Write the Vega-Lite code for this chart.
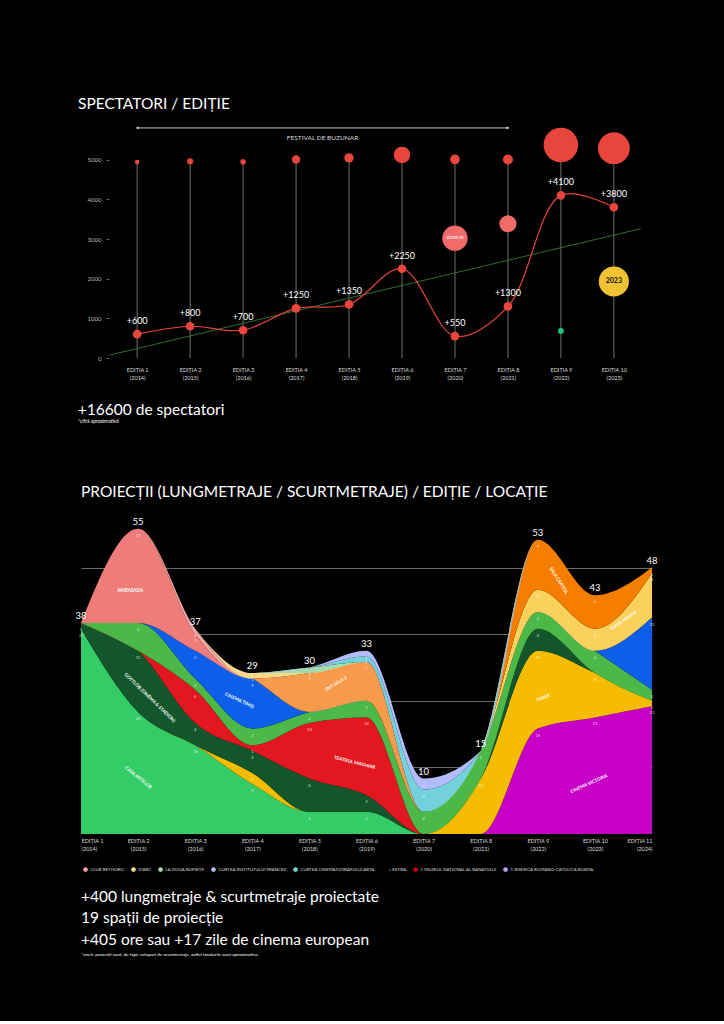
{
"$schema": "https://vega.github.io/schema/vega-lite/v6.json",
"background": "#000000",
"padding": {"left": 75, "top": 96, "right": 73, "bottom": 64},
"spacing": 59,
"resolve": {"scale": {"color": "independent", "size": "independent"}, "legend": {"color": "independent", "size": "independent"}},
"config": {
  "view": {"stroke": null},
  "font": "Lato",
  "title": {"font": "Lato", "color": "#ffffff", "fontWeight": "normal"},
  "axis": {"labelFont": "Lato"},
  "legend": {"labelFont": "Lato"},
  "text": {"font": "Lato"}
},
"datasets": {
  "spectatori": [
    {"editie":1,"spectatori":600},{"editie":2,"spectatori":800},{"editie":3,"spectatori":700},
    {"editie":4,"spectatori":1250},{"editie":5,"spectatori":1350},{"editie":6,"spectatori":2250},
    {"editie":7,"spectatori":550},{"editie":8,"spectatori":1300},{"editie":9,"spectatori":4100},
    {"editie":10,"spectatori":3800}
  ],
  "tendinta": [{"editie":0.47,"spectatori":70},{"editie":10.51,"spectatori":3260}],
  "cercuri": [
    {"editie":1,"nivel":4940,"marime":7,"tip":"editie"},
    {"editie":2,"nivel":4960,"marime":12,"tip":"editie"},
    {"editie":3,"nivel":4945,"marime":10,"tip":"editie"},
    {"editie":4,"nivel":5005,"marime":22,"tip":"editie"},
    {"editie":5,"nivel":5045,"marime":28,"tip":"editie"},
    {"editie":6,"nivel":5120,"marime":86,"tip":"editie"},
    {"editie":7,"nivel":5005,"marime":30,"tip":"editie"},
    {"editie":8,"nivel":5005,"marime":32,"tip":"editie"},
    {"editie":9,"nivel":5370,"marime":380,"tip":"editie"},
    {"editie":10,"nivel":5290,"marime":324,"tip":"editie"},
    {"editie":7,"nivel":3020,"marime":204,"tip":"covid","text":"COVID-19"},
    {"editie":8,"nivel":3385,"marime":94,"tip":"covid"},
    {"editie":9,"nivel":680,"marime":11,"tip":"verde"},
    {"editie":10,"nivel":1930,"marime":289,"tip":"galben","text":"2023"}
  ],
  "festival": [{"de_la":1,"pana_la":8,"nivel":5800,"text":"FESTIVAL DE BUZUNAR"}],
  "subsol": [
    {"sectiune":"spectatori","tip":"total","text":"+16600 de spectatori"},
    {"sectiune":"spectatori","tip":"nota","text":"*cifră aproximativă"},
    {"sectiune":"proiectii","tip":"total","text":"+400 lungmetraje & scurtmetraje proiectate\n19 spații de proiecție\n+405 ore sau +17 zile de cinema european"},
    {"sectiune":"proiectii","tip":"nota","text":"*unele proiecții sunt, de fapt, calupuri de scurtmetraje, astfel totalurile sunt aproximative."}
  ],
  "locatii": [
    {"locatie":"CINEMA VICTORIA","rang":1},{"locatie":"CASA ARTELOR","rang":2},{"locatie":"FABER","rang":3},
    {"locatie":"GOTTLOB (CINEMA & STADION)","rang":4},{"locatie":"TEATRUL MAGHIAR","rang":5},{"locatie":"ALTE SPAȚII","rang":6},
    {"locatie":"CINEMA TIMIȘ","rang":7},{"locatie":"TNT SALA 2","rang":8},{"locatie":"PIAȚA TRAIAN","rang":9},
    {"locatie":"SALA CAPITOL","rang":10},{"locatie":"AMBASADA","rang":11},{"locatie":"CLUB RETHORIC","rang":12},
    {"locatie":"D'ARC","rang":13},{"locatie":"LA DOUA BUFNIȚE","rang":14},{"locatie":"CURTEA CINEMATOGRAFULUI ARTA","rang":15},
    {"locatie":"CURTEA INSTITUTULUI FRANCEZ","rang":16}
  ],
  "etichete": [
    {"locatie":"AMBASADA","editie":1.86,"nivel":43.8},
    {"locatie":"GOTTLOB (CINEMA & STADION)","editie":2.2,"nivel":24.5},
    {"locatie":"CASA ARTELOR","editie":2.0,"nivel":10.1},
    {"locatie":"CINEMA TIMIȘ","editie":3.77,"nivel":24},
    {"locatie":"TNT SALA 2","editie":5.47,"nivel":27},
    {"locatie":"TEATRUL MAGHIAR","editie":5.79,"nivel":12.8},
    {"locatie":"SALA CAPITOL","editie":9.36,"nivel":45.6},
    {"locatie":"PIAȚA TRAIAN","editie":10.51,"nivel":38.4},
    {"locatie":"FABER","editie":9.1,"nivel":24.5},
    {"locatie":"CINEMA VICTORIA","editie":9.9,"nivel":9}
  ],
  "proiectii": [
    {"editie":1,"locatie":"CINEMA VICTORIA","proiectii":0},{"editie":2,"locatie":"CINEMA VICTORIA","proiectii":0},{"editie":3,"locatie":"CINEMA VICTORIA","proiectii":0},{"editie":4,"locatie":"CINEMA VICTORIA","proiectii":0},{"editie":5,"locatie":"CINEMA VICTORIA","proiectii":0},{"editie":6,"locatie":"CINEMA VICTORIA","proiectii":0},{"editie":7,"locatie":"CINEMA VICTORIA","proiectii":0},{"editie":8,"locatie":"CINEMA VICTORIA","proiectii":0},{"editie":9,"locatie":"CINEMA VICTORIA","proiectii":19},{"editie":10,"locatie":"CINEMA VICTORIA","proiectii":21},{"editie":11,"locatie":"CINEMA VICTORIA","proiectii":23},
    {"editie":1,"locatie":"CASA ARTELOR","proiectii":37},{"editie":2,"locatie":"CASA ARTELOR","proiectii":22},{"editie":3,"locatie":"CASA ARTELOR","proiectii":16},{"editie":4,"locatie":"CASA ARTELOR","proiectii":9},{"editie":5,"locatie":"CASA ARTELOR","proiectii":4},{"editie":6,"locatie":"CASA ARTELOR","proiectii":4},{"editie":7,"locatie":"CASA ARTELOR","proiectii":0},{"editie":8,"locatie":"CASA ARTELOR","proiectii":0},{"editie":9,"locatie":"CASA ARTELOR","proiectii":0},{"editie":10,"locatie":"CASA ARTELOR","proiectii":0},{"editie":11,"locatie":"CASA ARTELOR","proiectii":0},
    {"editie":1,"locatie":"FABER","proiectii":0},{"editie":2,"locatie":"FABER","proiectii":0},{"editie":3,"locatie":"FABER","proiectii":0},{"editie":4,"locatie":"FABER","proiectii":2},{"editie":5,"locatie":"FABER","proiectii":0},{"editie":6,"locatie":"FABER","proiectii":0},{"editie":7,"locatie":"FABER","proiectii":0},{"editie":8,"locatie":"FABER","proiectii":10},{"editie":9,"locatie":"FABER","proiectii":14},{"editie":10,"locatie":"FABER","proiectii":8},{"editie":11,"locatie":"FABER","proiectii":1},
    {"editie":1,"locatie":"GOTTLOB (CINEMA & STADION)","proiectii":1},{"editie":2,"locatie":"GOTTLOB (CINEMA & STADION)","proiectii":11},{"editie":3,"locatie":"GOTTLOB (CINEMA & STADION)","proiectii":4},{"editie":4,"locatie":"GOTTLOB (CINEMA & STADION)","proiectii":4},{"editie":5,"locatie":"GOTTLOB (CINEMA & STADION)","proiectii":6},{"editie":6,"locatie":"GOTTLOB (CINEMA & STADION)","proiectii":3},{"editie":7,"locatie":"GOTTLOB (CINEMA & STADION)","proiectii":0},{"editie":8,"locatie":"GOTTLOB (CINEMA & STADION)","proiectii":0},{"editie":9,"locatie":"GOTTLOB (CINEMA & STADION)","proiectii":4},{"editie":10,"locatie":"GOTTLOB (CINEMA & STADION)","proiectii":0},{"editie":11,"locatie":"GOTTLOB (CINEMA & STADION)","proiectii":0},
    {"editie":1,"locatie":"TEATRUL MAGHIAR","proiectii":0},{"editie":2,"locatie":"TEATRUL MAGHIAR","proiectii":0},{"editie":3,"locatie":"TEATRUL MAGHIAR","proiectii":6},{"editie":4,"locatie":"TEATRUL MAGHIAR","proiectii":1},{"editie":5,"locatie":"TEATRUL MAGHIAR","proiectii":10},{"editie":6,"locatie":"TEATRUL MAGHIAR","proiectii":14},{"editie":7,"locatie":"TEATRUL MAGHIAR","proiectii":0},{"editie":8,"locatie":"TEATRUL MAGHIAR","proiectii":0},{"editie":9,"locatie":"TEATRUL MAGHIAR","proiectii":0},{"editie":10,"locatie":"TEATRUL MAGHIAR","proiectii":0},{"editie":11,"locatie":"TEATRUL MAGHIAR","proiectii":0},
    {"editie":1,"locatie":"ALTE SPAȚII","proiectii":0},{"editie":2,"locatie":"ALTE SPAȚII","proiectii":5},{"editie":3,"locatie":"ALTE SPAȚII","proiectii":2},{"editie":4,"locatie":"ALTE SPAȚII","proiectii":3},{"editie":5,"locatie":"ALTE SPAȚII","proiectii":2},{"editie":6,"locatie":"ALTE SPAȚII","proiectii":3},{"editie":7,"locatie":"ALTE SPAȚII","proiectii":4},{"editie":8,"locatie":"ALTE SPAȚII","proiectii":5},{"editie":9,"locatie":"ALTE SPAȚII","proiectii":3},{"editie":10,"locatie":"ALTE SPAȚII","proiectii":4},{"editie":11,"locatie":"ALTE SPAȚII","proiectii":2},
    {"editie":1,"locatie":"CINEMA TIMIȘ","proiectii":0},{"editie":2,"locatie":"CINEMA TIMIȘ","proiectii":0},{"editie":3,"locatie":"CINEMA TIMIȘ","proiectii":5},{"editie":4,"locatie":"CINEMA TIMIȘ","proiectii":9},{"editie":5,"locatie":"CINEMA TIMIȘ","proiectii":0},{"editie":6,"locatie":"CINEMA TIMIȘ","proiectii":0},{"editie":7,"locatie":"CINEMA TIMIȘ","proiectii":0},{"editie":8,"locatie":"CINEMA TIMIȘ","proiectii":0},{"editie":9,"locatie":"CINEMA TIMIȘ","proiectii":0},{"editie":10,"locatie":"CINEMA TIMIȘ","proiectii":0},{"editie":11,"locatie":"CINEMA TIMIȘ","proiectii":13},
    {"editie":1,"locatie":"TNT SALA 2","proiectii":0},{"editie":2,"locatie":"TNT SALA 2","proiectii":0},{"editie":3,"locatie":"TNT SALA 2","proiectii":0},{"editie":4,"locatie":"TNT SALA 2","proiectii":0},{"editie":5,"locatie":"TNT SALA 2","proiectii":7},{"editie":6,"locatie":"TNT SALA 2","proiectii":7},{"editie":7,"locatie":"TNT SALA 2","proiectii":0},{"editie":8,"locatie":"TNT SALA 2","proiectii":0},{"editie":9,"locatie":"TNT SALA 2","proiectii":0},{"editie":10,"locatie":"TNT SALA 2","proiectii":0},{"editie":11,"locatie":"TNT SALA 2","proiectii":0},
    {"editie":1,"locatie":"PIAȚA TRAIAN","proiectii":0},{"editie":2,"locatie":"PIAȚA TRAIAN","proiectii":0},{"editie":3,"locatie":"PIAȚA TRAIAN","proiectii":0},{"editie":4,"locatie":"PIAȚA TRAIAN","proiectii":0},{"editie":5,"locatie":"PIAȚA TRAIAN","proiectii":0},{"editie":6,"locatie":"PIAȚA TRAIAN","proiectii":0},{"editie":7,"locatie":"PIAȚA TRAIAN","proiectii":0},{"editie":8,"locatie":"PIAȚA TRAIAN","proiectii":0},{"editie":9,"locatie":"PIAȚA TRAIAN","proiectii":4},{"editie":10,"locatie":"PIAȚA TRAIAN","proiectii":4},{"editie":11,"locatie":"PIAȚA TRAIAN","proiectii":8},
    {"editie":1,"locatie":"SALA CAPITOL","proiectii":0},{"editie":2,"locatie":"SALA CAPITOL","proiectii":0},{"editie":3,"locatie":"SALA CAPITOL","proiectii":0},{"editie":4,"locatie":"SALA CAPITOL","proiectii":0},{"editie":5,"locatie":"SALA CAPITOL","proiectii":0},{"editie":6,"locatie":"SALA CAPITOL","proiectii":0},{"editie":7,"locatie":"SALA CAPITOL","proiectii":0},{"editie":8,"locatie":"SALA CAPITOL","proiectii":0},{"editie":9,"locatie":"SALA CAPITOL","proiectii":9},{"editie":10,"locatie":"SALA CAPITOL","proiectii":6},{"editie":11,"locatie":"SALA CAPITOL","proiectii":1},
    {"editie":1,"locatie":"AMBASADA","proiectii":0},{"editie":2,"locatie":"AMBASADA","proiectii":17},{"editie":3,"locatie":"AMBASADA","proiectii":3},{"editie":4,"locatie":"AMBASADA","proiectii":0},{"editie":5,"locatie":"AMBASADA","proiectii":0},{"editie":6,"locatie":"AMBASADA","proiectii":0},{"editie":7,"locatie":"AMBASADA","proiectii":0},{"editie":8,"locatie":"AMBASADA","proiectii":0},{"editie":9,"locatie":"AMBASADA","proiectii":0},{"editie":10,"locatie":"AMBASADA","proiectii":0},{"editie":11,"locatie":"AMBASADA","proiectii":0},
    {"editie":1,"locatie":"CLUB RETHORIC","proiectii":0},{"editie":2,"locatie":"CLUB RETHORIC","proiectii":0},{"editie":3,"locatie":"CLUB RETHORIC","proiectii":1},{"editie":4,"locatie":"CLUB RETHORIC","proiectii":0},{"editie":5,"locatie":"CLUB RETHORIC","proiectii":0},{"editie":6,"locatie":"CLUB RETHORIC","proiectii":0},{"editie":7,"locatie":"CLUB RETHORIC","proiectii":0},{"editie":8,"locatie":"CLUB RETHORIC","proiectii":0},{"editie":9,"locatie":"CLUB RETHORIC","proiectii":0},{"editie":10,"locatie":"CLUB RETHORIC","proiectii":0},{"editie":11,"locatie":"CLUB RETHORIC","proiectii":0},
    {"editie":1,"locatie":"D'ARC","proiectii":0},{"editie":2,"locatie":"D'ARC","proiectii":0},{"editie":3,"locatie":"D'ARC","proiectii":0},{"editie":4,"locatie":"D'ARC","proiectii":1},{"editie":5,"locatie":"D'ARC","proiectii":0},{"editie":6,"locatie":"D'ARC","proiectii":0},{"editie":7,"locatie":"D'ARC","proiectii":0},{"editie":8,"locatie":"D'ARC","proiectii":0},{"editie":9,"locatie":"D'ARC","proiectii":0},{"editie":10,"locatie":"D'ARC","proiectii":0},{"editie":11,"locatie":"D'ARC","proiectii":0},
    {"editie":1,"locatie":"LA DOUA BUFNIȚE","proiectii":0},{"editie":2,"locatie":"LA DOUA BUFNIȚE","proiectii":0},{"editie":3,"locatie":"LA DOUA BUFNIȚE","proiectii":0},{"editie":4,"locatie":"LA DOUA BUFNIȚE","proiectii":0},{"editie":5,"locatie":"LA DOUA BUFNIȚE","proiectii":1},{"editie":6,"locatie":"LA DOUA BUFNIȚE","proiectii":0},{"editie":7,"locatie":"LA DOUA BUFNIȚE","proiectii":0},{"editie":8,"locatie":"LA DOUA BUFNIȚE","proiectii":0},{"editie":9,"locatie":"LA DOUA BUFNIȚE","proiectii":0},{"editie":10,"locatie":"LA DOUA BUFNIȚE","proiectii":0},{"editie":11,"locatie":"LA DOUA BUFNIȚE","proiectii":0},
    {"editie":1,"locatie":"CURTEA CINEMATOGRAFULUI ARTA","proiectii":0},{"editie":2,"locatie":"CURTEA CINEMATOGRAFULUI ARTA","proiectii":0},{"editie":3,"locatie":"CURTEA CINEMATOGRAFULUI ARTA","proiectii":0},{"editie":4,"locatie":"CURTEA CINEMATOGRAFULUI ARTA","proiectii":0},{"editie":5,"locatie":"CURTEA CINEMATOGRAFULUI ARTA","proiectii":0},{"editie":6,"locatie":"CURTEA CINEMATOGRAFULUI ARTA","proiectii":1},{"editie":7,"locatie":"CURTEA CINEMATOGRAFULUI ARTA","proiectii":4},{"editie":8,"locatie":"CURTEA CINEMATOGRAFULUI ARTA","proiectii":0},{"editie":9,"locatie":"CURTEA CINEMATOGRAFULUI ARTA","proiectii":0},{"editie":10,"locatie":"CURTEA CINEMATOGRAFULUI ARTA","proiectii":0},{"editie":11,"locatie":"CURTEA CINEMATOGRAFULUI ARTA","proiectii":0},
    {"editie":1,"locatie":"CURTEA INSTITUTULUI FRANCEZ","proiectii":0},{"editie":2,"locatie":"CURTEA INSTITUTULUI FRANCEZ","proiectii":0},{"editie":3,"locatie":"CURTEA INSTITUTULUI FRANCEZ","proiectii":0},{"editie":4,"locatie":"CURTEA INSTITUTULUI FRANCEZ","proiectii":0},{"editie":5,"locatie":"CURTEA INSTITUTULUI FRANCEZ","proiectii":0},{"editie":6,"locatie":"CURTEA INSTITUTULUI FRANCEZ","proiectii":1},{"editie":7,"locatie":"CURTEA INSTITUTULUI FRANCEZ","proiectii":2},{"editie":8,"locatie":"CURTEA INSTITUTULUI FRANCEZ","proiectii":0},{"editie":9,"locatie":"CURTEA INSTITUTULUI FRANCEZ","proiectii":0},{"editie":10,"locatie":"CURTEA INSTITUTULUI FRANCEZ","proiectii":0},{"editie":11,"locatie":"CURTEA INSTITUTULUI FRANCEZ","proiectii":0}
  ]
},
"vconcat": [
  {
    "width": 571, "height": 238,
    "title": {"text": "SPECTATORI / EDIȚIE", "anchor": "start", "frame": "group", "dx": -3, "fontSize": 15.5, "baseline": "alphabetic", "offset": -4},
    "layer": [
      {"data": {"name": "cercuri"}, "transform": [{"filter": "datum.tip === 'editie'"}],
       "mark": {"type": "rule", "color": "#8c8c8c", "strokeWidth": 0.8},
       "encoding": {
         "x": {"field": "editie", "type": "quantitative", "scale": {"domain": [-0.06, 10.72], "nice": false, "zero": false},
               "axis": {"values": [1,2,3,4,5,6,7,8,9,10], "labelExpr": "['EDIȚIA ' + datum.value, '(' + (2013 + datum.value) + ')']", "title": null, "domain": false, "ticks": false, "grid": false, "labelFontSize": 5.5, "labelColor": "#dddddd", "labelPadding": 9, "labelLineHeight": 8}},
         "y": {"field": "nivel", "type": "quantitative", "scale": {"domain": [0, 6000], "nice": false, "zero": false},
               "axis": {"values": [0,1000,2000,3000,4000,5000], "format": "d", "title": null, "domain": false, "grid": false, "tickSize": 3, "tickColor": "#777777", "tickWidth": 0.8, "labelFontSize": 6, "labelColor": "#bbbbbb", "labelPadding": 5, "offset": -28}},
         "y2": {"datum": 0}
       }},
      {"data": {"name": "tendinta"},
       "mark": {"type": "line", "color": "#2e6e34", "strokeWidth": 1},
       "encoding": {"x": {"field": "editie", "type": "quantitative"}, "y": {"field": "spectatori", "type": "quantitative"}}},
      {"data": {"name": "spectatori"},
       "mark": {"type": "line", "color": "#e8453c", "strokeWidth": 1.2, "interpolate": "catmull-rom"},
       "encoding": {"x": {"field": "editie", "type": "quantitative"}, "y": {"field": "spectatori", "type": "quantitative"}}},
      {"data": {"name": "spectatori"},
       "mark": {"type": "circle", "color": "#e8453c", "size": 75, "opacity": 1},
       "encoding": {"x": {"field": "editie", "type": "quantitative"}, "y": {"field": "spectatori", "type": "quantitative"}}},
      {"data": {"name": "spectatori"},
       "mark": {"type": "text", "color": "#ffffff", "fontSize": 9, "baseline": "alphabetic", "dy": -10},
       "encoding": {"x": {"field": "editie", "type": "quantitative"}, "y": {"field": "spectatori", "type": "quantitative"}, "text": {"field": "spectatori", "type": "quantitative", "format": "+d"}}},
      {"data": {"name": "cercuri"},
       "mark": {"type": "circle", "opacity": 1},
       "encoding": {
         "x": {"field": "editie", "type": "quantitative"},
         "y": {"field": "nivel", "type": "quantitative"},
         "size": {"field": "marime", "type": "quantitative", "scale": {"domain": [0, 400], "range": [0, 1257]}, "legend": null},
         "color": {"field": "tip", "type": "nominal", "scale": {"domain": ["editie","covid","verde","galben"], "range": ["#e8453c","#f26b6b","#1fc27a","#f1c232"]}, "legend": null}
       }},
      {"data": {"name": "cercuri"}, "transform": [{"filter": "datum.tip === 'covid' && isValid(datum.text)"}],
       "mark": {"type": "text", "color": "#ffffff", "fontSize": 3.6, "fontWeight": "bold"},
       "encoding": {"x": {"field": "editie", "type": "quantitative"}, "y": {"field": "nivel", "type": "quantitative"}, "text": {"field": "text"}}},
      {"data": {"name": "cercuri"}, "transform": [{"filter": "datum.tip === 'galben'"}],
       "mark": {"type": "text", "color": "#111111", "fontSize": 7, "fontWeight": "bold"},
       "encoding": {"x": {"field": "editie", "type": "quantitative"}, "y": {"field": "nivel", "type": "quantitative"}, "text": {"field": "text"}}},
      {"data": {"name": "festival"},
       "mark": {"type": "rule", "color": "#dddddd", "strokeWidth": 0.9},
       "encoding": {"x": {"field": "de_la", "type": "quantitative"}, "x2": {"field": "pana_la"}, "y": {"field": "nivel", "type": "quantitative"}}},
      {"data": {"name": "festival"},
       "mark": {"type": "point", "shape": "triangle-left", "filled": true, "color": "#dddddd", "size": 10, "opacity": 1},
       "encoding": {"x": {"field": "de_la", "type": "quantitative"}, "y": {"field": "nivel", "type": "quantitative"}}},
      {"data": {"name": "festival"},
       "mark": {"type": "point", "shape": "triangle-right", "filled": true, "color": "#dddddd", "size": 10, "opacity": 1},
       "encoding": {"x": {"field": "pana_la", "type": "quantitative"}, "y": {"field": "nivel", "type": "quantitative"}}},
      {"data": {"name": "festival"},
       "mark": {"type": "text", "color": "#dddddd", "fontSize": 6.5, "dy": 10},
       "encoding": {"x": {"datum": 4.5, "type": "quantitative"}, "y": {"field": "nivel", "type": "quantitative"}, "text": {"field": "text"}}},
      {"data": {"name": "subsol"}, "transform": [{"filter": "datum.sectiune === 'spectatori' && datum.tip === 'total'"}],
       "mark": {"type": "text", "color": "#ffffff", "fontSize": 15.5, "align": "left", "baseline": "alphabetic"},
       "encoding": {"x": {"datum": -0.12, "type": "quantitative"}, "y": {"datum": -1437, "type": "quantitative"}, "text": {"field": "text"}}},
      {"data": {"name": "subsol"}, "transform": [{"filter": "datum.sectiune === 'spectatori' && datum.tip === 'nota'"}],
       "mark": {"type": "text", "color": "#ffffff", "fontSize": 5, "align": "left", "baseline": "alphabetic"},
       "encoding": {"x": {"datum": -0.12, "type": "quantitative"}, "y": {"datum": -1639, "type": "quantitative"}, "text": {"field": "text"}}}
    ]
  },
  {
    "width": 571, "height": 333,
    "title": {"text": "PROIECȚII (LUNGMETRAJE / SCURTMETRAJE) / EDIȚIE / LOCAȚIE", "anchor": "start", "frame": "group", "fontSize": 15.5, "baseline": "alphabetic", "offset": -11},
    "layer": [
      {"data": {"name": "proiectii"},
       "transform": [
         {"lookup": "locatie", "from": {"data": {"name": "locatii"}, "key": "locatie", "fields": ["rang"]}},
         {"stack": "proiectii", "groupby": ["editie"], "sort": [{"field": "rang", "order": "ascending"}], "as": ["v0", "v1"]}
       ],
       "mark": {"type": "area", "interpolate": "monotone", "opacity": 1},
       "encoding": {
         "x": {"field": "editie", "type": "quantitative", "scale": {"domain": [1, 11], "nice": false, "zero": false},
               "axis": {"values": [1,2,3,4,5,6,7,8,9,10,11], "labelExpr": "['EDIȚIA ' + datum.value, '(' + (2013 + datum.value) + ')']", "labelFlush": true, "title": null, "domain": false, "ticks": false, "grid": false, "labelFontSize": 5.5, "labelColor": "#dddddd", "labelPadding": 4, "labelLineHeight": 8.5}},
         "y": {"field": "v1", "type": "quantitative", "scale": {"domain": [0, 60], "nice": false, "zero": false},
               "axis": {"values": [12,24,36,48], "title": null, "labels": false, "ticks": false, "domain": false, "grid": true, "gridColor": "#8a8a8a", "gridWidth": 0.8}},
         "y2": {"field": "v0"},
         "color": {"field": "locatie", "type": "nominal",
           "scale": {
             "domain": ["CINEMA VICTORIA","CASA ARTELOR","FABER","GOTTLOB (CINEMA & STADION)","TEATRUL MAGHIAR","ALTE SPAȚII","CINEMA TIMIȘ","TNT SALA 2","PIAȚA TRAIAN","SALA CAPITOL","AMBASADA","CLUB RETHORIC","D'ARC","LA DOUA BUFNIȚE","CURTEA CINEMATOGRAFULUI ARTA","CURTEA INSTITUTULUI FRANCEZ","+ EXTRA:","MUZEUL NAȚIONAL AL BANATULUI","BISERICA ROMANO-CATOLICĂ BOBDA"],
             "range": ["#c700c7","#33cc66","#f6bd00","#14562b","#e3171f","#4cb848","#0d5ee8","#f89a4c","#f9d15b","#f57d00","#ee7c78","#f4a4a8","#f7d98a","#a6dbb0","#73d1dc","#b3bdfd","#000000","#c8000c","#b2a6f5"]
           },
           "legend": {"values": ["CLUB RETHORIC","D'ARC","LA DOUA BUFNIȚE","CURTEA INSTITUTULUI FRANCEZ","CURTEA CINEMATOGRAFULUI ARTA","+ EXTRA:","MUZEUL NAȚIONAL AL BANATULUI","BISERICA ROMANO-CATOLICĂ BOBDA"],
             "labelExpr": "(datum.label === 'MUZEUL NAȚIONAL AL BANATULUI' || datum.label === 'BISERICA ROMANO-CATOLICĂ BOBDA') ? '1 ' + datum.label : datum.label",
             "orient": "none", "legendX": 2, "legendY": 366, "direction": "horizontal", "columns": 8, "title": null,
             "symbolType": "circle", "symbolSize": 22, "symbolStrokeWidth": 0, "symbolOpacity": 1,
             "labelFontSize": 4.4, "labelColor": "#dddddd", "labelOffset": 2.5, "columnPadding": 6, "padding": 0, "labelLimit": 0}
         }
       }},
      {"data": {"name": "proiectii"},
       "transform": [
         {"lookup": "locatie", "from": {"data": {"name": "locatii"}, "key": "locatie", "fields": ["rang"]}},
         {"stack": "proiectii", "groupby": ["editie"], "sort": [{"field": "rang", "order": "ascending"}], "as": ["v0", "v1"]},
         {"filter": "datum.proiectii > 0"}
       ],
       "mark": {"type": "text", "color": "#ffffff", "opacity": 0.75, "fontSize": 4, "dy": 7},
       "encoding": {"x": {"field": "editie", "type": "quantitative"}, "y": {"field": "v1", "type": "quantitative"}, "text": {"field": "proiectii", "type": "quantitative"}}},
      {"data": {"name": "proiectii"},
       "transform": [{"aggregate": [{"op": "sum", "field": "proiectii", "as": "total"}], "groupby": ["editie"]}],
       "mark": {"type": "text", "color": "#ffffff", "fontSize": 9.5, "baseline": "alphabetic", "dy": -4},
       "encoding": {"x": {"field": "editie", "type": "quantitative"}, "y": {"field": "total", "type": "quantitative"}, "text": {"field": "total", "type": "quantitative"}}},
      {"data": {"name": "etichete"}, "transform": [{"filter": "datum.locatie === 'AMBASADA'"}],
       "mark": {"type": "text", "color": "#ffffff", "fontSize": 4.6, "fontWeight": "bold", "angle": 0},
       "encoding": {"x": {"field": "editie", "type": "quantitative"}, "y": {"field": "nivel", "type": "quantitative"}, "text": {"field": "locatie"}}},
      {"data": {"name": "etichete"}, "transform": [{"filter": "datum.locatie === 'GOTTLOB (CINEMA & STADION)'"}],
       "mark": {"type": "text", "color": "#ffffff", "fontSize": 4.6, "fontWeight": "bold", "angle": 44},
       "encoding": {"x": {"field": "editie", "type": "quantitative"}, "y": {"field": "nivel", "type": "quantitative"}, "text": {"field": "locatie"}}},
      {"data": {"name": "etichete"}, "transform": [{"filter": "datum.locatie === 'CASA ARTELOR'"}],
       "mark": {"type": "text", "color": "#ffffff", "fontSize": 4.6, "fontWeight": "bold", "angle": 39},
       "encoding": {"x": {"field": "editie", "type": "quantitative"}, "y": {"field": "nivel", "type": "quantitative"}, "text": {"field": "locatie"}}},
      {"data": {"name": "etichete"}, "transform": [{"filter": "datum.locatie === 'CINEMA TIMIȘ'"}],
       "mark": {"type": "text", "color": "#ffffff", "fontSize": 4.6, "fontWeight": "bold", "angle": 25},
       "encoding": {"x": {"field": "editie", "type": "quantitative"}, "y": {"field": "nivel", "type": "quantitative"}, "text": {"field": "locatie"}}},
      {"data": {"name": "etichete"}, "transform": [{"filter": "datum.locatie === 'TNT SALA 2'"}],
       "mark": {"type": "text", "color": "#ffffff", "fontSize": 4.6, "fontWeight": "bold", "angle": -32},
       "encoding": {"x": {"field": "editie", "type": "quantitative"}, "y": {"field": "nivel", "type": "quantitative"}, "text": {"field": "locatie"}}},
      {"data": {"name": "etichete"}, "transform": [{"filter": "datum.locatie === 'TEATRUL MAGHIAR'"}],
       "mark": {"type": "text", "color": "#ffffff", "fontSize": 4.6, "fontWeight": "bold", "angle": 14},
       "encoding": {"x": {"field": "editie", "type": "quantitative"}, "y": {"field": "nivel", "type": "quantitative"}, "text": {"field": "locatie"}}},
      {"data": {"name": "etichete"}, "transform": [{"filter": "datum.locatie === 'SALA CAPITOL'"}],
       "mark": {"type": "text", "color": "#ffffff", "fontSize": 4.6, "fontWeight": "bold", "angle": 58},
       "encoding": {"x": {"field": "editie", "type": "quantitative"}, "y": {"field": "nivel", "type": "quantitative"}, "text": {"field": "locatie"}}},
      {"data": {"name": "etichete"}, "transform": [{"filter": "datum.locatie === 'PIAȚA TRAIAN'"}],
       "mark": {"type": "text", "color": "#ffffff", "fontSize": 4.6, "fontWeight": "bold", "angle": -35},
       "encoding": {"x": {"field": "editie", "type": "quantitative"}, "y": {"field": "nivel", "type": "quantitative"}, "text": {"field": "locatie"}}},
      {"data": {"name": "etichete"}, "transform": [{"filter": "datum.locatie === 'FABER'"}],
       "mark": {"type": "text", "color": "#ffffff", "fontSize": 4.6, "fontWeight": "bold", "angle": -22},
       "encoding": {"x": {"field": "editie", "type": "quantitative"}, "y": {"field": "nivel", "type": "quantitative"}, "text": {"field": "locatie"}}},
      {"data": {"name": "etichete"}, "transform": [{"filter": "datum.locatie === 'CINEMA VICTORIA'"}],
       "mark": {"type": "text", "color": "#ffffff", "fontSize": 4.6, "fontWeight": "bold", "angle": -24},
       "encoding": {"x": {"field": "editie", "type": "quantitative"}, "y": {"field": "nivel", "type": "quantitative"}, "text": {"field": "locatie"}}},
      {"data": {"name": "subsol"}, "transform": [{"filter": "datum.sectiune === 'proiectii' && datum.tip === 'total'"}],
       "mark": {"type": "text", "color": "#ffffff", "fontSize": 15.5, "align": "left", "baseline": "alphabetic", "lineBreak": "\n", "lineHeight": 21.5},
       "encoding": {"x": {"datum": 1, "type": "quantitative"}, "y": {"datum": -12.25, "type": "quantitative"}, "text": {"field": "text"}}},
      {"data": {"name": "subsol"}, "transform": [{"filter": "datum.sectiune === 'proiectii' && datum.tip === 'nota'"}],
       "mark": {"type": "text", "color": "#ffffff", "fontSize": 4.6, "align": "left", "baseline": "alphabetic"},
       "encoding": {"x": {"datum": 1, "type": "quantitative"}, "y": {"datum": -22.0, "type": "quantitative"}, "text": {"field": "text"}}}
    ]
  }
]
}
